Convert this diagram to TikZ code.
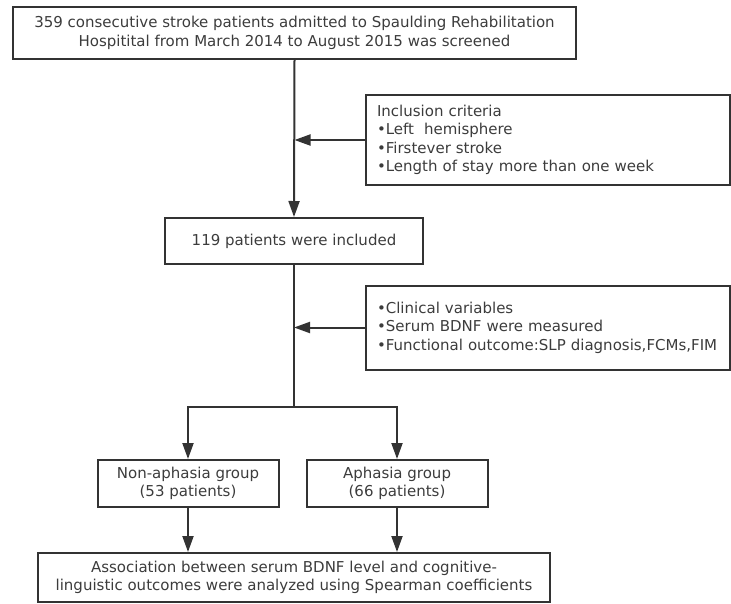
\documentclass[tikz,border=0pt]{standalone}
\usepackage{fontspec}
\setmainfont{DejaVu Sans}
\usetikzlibrary{arrows.meta}
\definecolor{linec}{HTML}{333333}
\definecolor{textc}{HTML}{3C3C3C}
\begin{document}
\begin{tikzpicture}[x=1pt,y=-1pt,
  box/.style={draw=linec, line width=2pt, text=textc, inner sep=0pt,
    font=\fontsize{15}{18.5}\selectfont, align=center},
  sidebox/.style={box, align=left, inner xsep=11pt, text width=342pt},
  arr/.style={draw=linec, line width=2pt, -{Triangle[length=16pt,width=11pt]}},
  ln/.style={draw=linec, line width=2pt}]
\useasboundingbox (0,0) rectangle (731,603);
\node[box, minimum width=563pt, minimum height=52pt] (b1) at (294.5,33)
  {359 consecutive stroke patients admitted to Spaulding Rehabilitation\\
   Hospitital from March 2014 to August 2015 was screened};
\node[sidebox, minimum height=90pt] (s1) at (548,140)
  {Inclusion criteria\\
   •Left\ \ hemisphere\\
   •Firstever stroke\\
   •Length of stay more than one week};
\node[box, minimum width=258pt, minimum height=46pt] (b2) at (294,241)
  {119 patients were included};
\node[sidebox, minimum height=84pt] (s2) at (548,327.5)
  {•Clinical variables\\
   •Serum BDNF were measured\\
   •Functional outcome:SLP diagnosis,FCMs,FIM};
\coordinate (split) at (294,407);
\node[box, minimum width=181pt, minimum height=47pt] (g1) at (188,483.5)
  {Non-aphasia group\\(53 patients)};
\node[box, minimum width=181pt, minimum height=47pt] (g2) at (397,483.5)
  {Aphasia group\\(66 patients)};
\node[box, minimum width=512pt, minimum height=49pt] (fin) at (294,577.5)
  {Association between serum BDNF level and cognitive-\\
   linguistic outcomes were analyzed using Spearman coefficients};
\draw[arr] (b1.south) -- (b2.north);
\draw[arr] (s1.west) -- (s1.west -| b1.south);
\draw[ln] (b2.south) -- (split);
\draw[arr] (s2.west) -- (s2.west -| b2.south);
\draw[arr] (split) -| (g1.north);
\draw[arr] (split) -| (g2.north);
\draw[arr] (g1.south) -- (g1.south |- fin.north);
\draw[arr] (g2.south) -- (g2.south |- fin.north);
\end{tikzpicture}
\end{document}
